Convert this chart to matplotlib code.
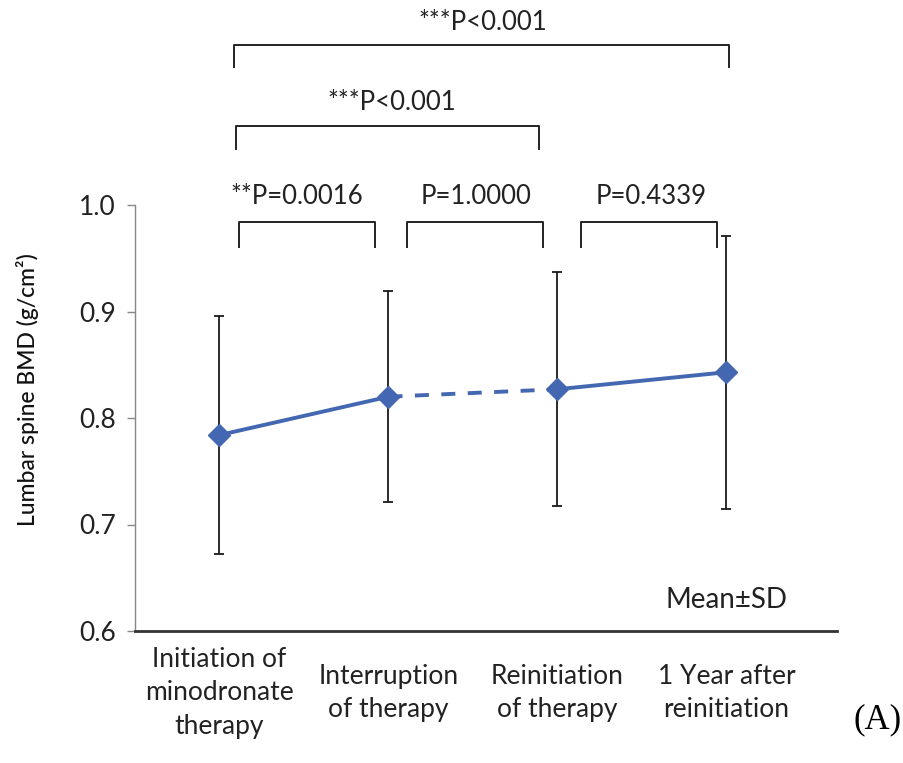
import matplotlib
matplotlib.use("Agg")
import matplotlib.pyplot as plt
from matplotlib.lines import Line2D

plt.rcParams['font.family'] = ['Lato', 'DejaVu Sans']

categories = ["Initiation of\nminodronate\ntherapy", "Interruption\nof therapy",
              "Reinitiation\nof therapy", "1 Year after\nreinitiation"]
means = [0.784, 0.820, 0.827, 0.843]
sds = [0.112, 0.099, 0.110, 0.128]
yticks = [0.6, 0.7, 0.8, 0.9, 1.0]
pvals = ["***P<0.001", "***P<0.001", "**P=0.0016", "P=1.0000", "P=0.4339"]

W, H = 904, 763
fig = plt.figure(figsize=(W / 100, H / 100), dpi=100)
L, R, B, T = 135, 837, 631, 205
ax = fig.add_axes([L / W, 1 - B / H, (R - L) / W, (B - T) / H])

x = list(range(len(means)))
blue = '#4467B1'
ax.errorbar(x, means, yerr=sds, fmt='none', ecolor='#1a1a1a', elinewidth=1.3,
            capsize=3.8, capthick=1.3, zorder=2)
ax.plot(x[:2], means[:2], color=blue, lw=2.8, zorder=3)
ax.plot(x[1:3], means[1:3], color=blue, lw=2.8, dashes=(3.6, 3.2), zorder=3)
ax.plot(x[2:], means[2:], color=blue, lw=2.8, zorder=3)
ax.plot(x, means, ls='none', marker='D', ms=11.5, color=blue, zorder=4)

ax.set_ylim(0.6, 1.0)
ax.set_xlim(-0.5, 3.654)
ax.set_yticks(yticks)
ax.set_yticklabels([f"{v:.1f}" for v in yticks], fontsize=19, color='#222222')
ax.tick_params(axis='y', length=6, width=1, color='#888888', pad=8)
ax.set_xticks(x)
ax.set_xticklabels([])
ax.tick_params(axis='x', length=0)
for s in ['top', 'right']:
    ax.spines[s].set_visible(False)
ax.spines['left'].set_color('#888888')
ax.spines['left'].set_linewidth(1)
ax.spines['bottom'].set_color('#333333')
ax.spines['bottom'].set_linewidth(2)

for xi, lab in zip(x, categories):
    ax.text(xi, -0.145, lab, transform=ax.get_xaxis_transform(), ha='center', va='center',
            fontsize=19, linespacing=1.42, color='#222222')

fig.text(28 / W, 1 - 390 / H, "Lumbar spine BMD (g/cm²)", rotation=90, ha='center', va='center',
         fontsize=16.5, color='#111111', weight='medium')

ax.text(727 / W, 1 - 600 / H, "Mean\u00b1SD", transform=fig.transFigure, ha='center', va='center',
        fontsize=20, color='#222222')
fig.text(878 / W, 1 - 720 / H, "(A)", family='Liberation Serif', fontsize=25, ha='center', va='center')

# significance brackets (pixel layout)
brackets = [(234, 729, 45, 67, 483, 22), (236, 539, 126, 149, 392, 102),
            (239, 375, 222, 247, 297, 197), (407, 543, 222, 247, 476, 197),
            (581, 717, 222, 247, 651, 197)]
for (x0, x1, yt, yb, tx, ty), lab in zip(brackets, pvals):
    xs = [x0 / W, x0 / W, x1 / W, x1 / W]
    ys = [1 - yb / H, 1 - yt / H, 1 - yt / H, 1 - yb / H]
    fig.add_artist(Line2D(xs, ys, color='#222222', lw=1.4, transform=fig.transFigure))
    fig.text(tx / W, 1 - ty / H, lab, ha='center', va='center', fontsize=18.5, color='#222222')

fig.savefig("out.png", dpi=100)
